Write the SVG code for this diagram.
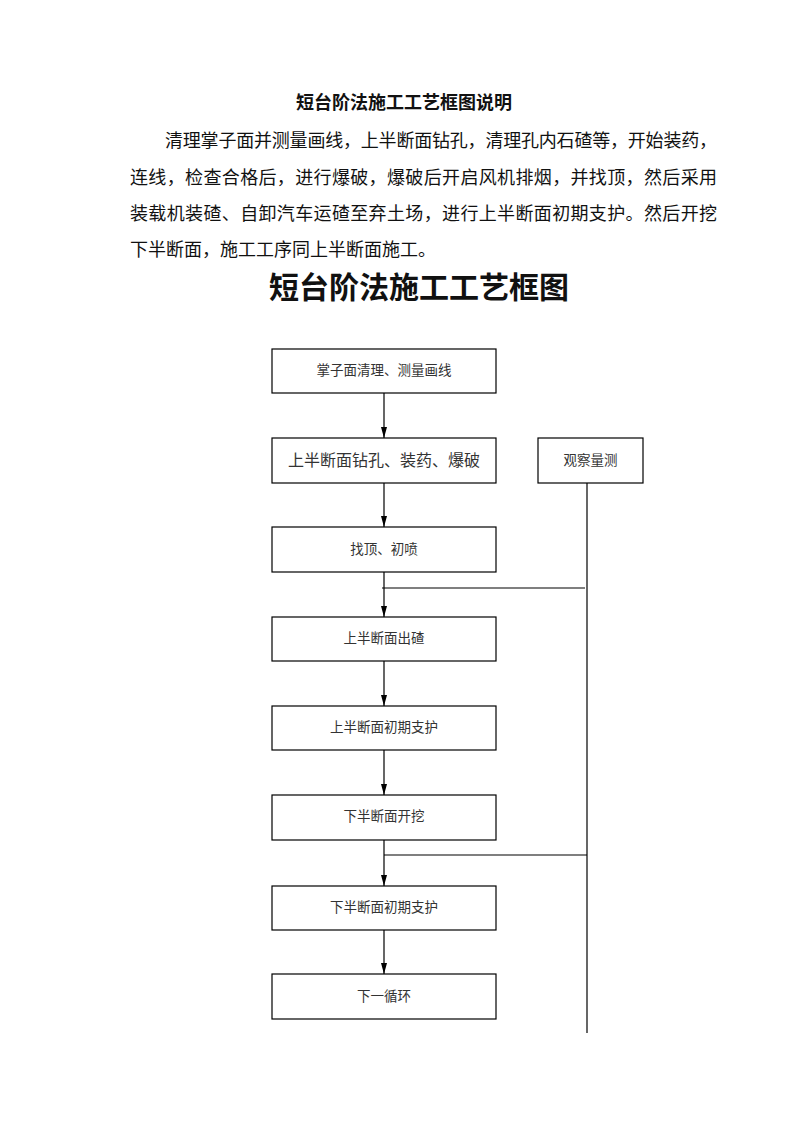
<svg xmlns="http://www.w3.org/2000/svg" width="793" height="1122" viewBox="0 0 793 1122">
<defs>
<style>
text{font-family:"Noto Sans CJK SC","Noto Sans CJK TC",sans-serif;fill:#111}
.h1{font-size:18px;font-weight:bold;text-anchor:middle}
.p{font-size:18px}
.h2{font-size:30px;font-weight:bold;text-anchor:middle}
.box rect{fill:#fff;stroke:#000;stroke-width:1.2}
.box text{font-size:13.5px;text-anchor:middle;fill:#333}
.ln{stroke:#000;stroke-width:1.2;fill:none}
</style>
<marker id="ad" viewBox="0 0 11 6" refX="11" refY="3" markerWidth="11" markerHeight="6" markerUnits="userSpaceOnUse" orient="auto">
<path d="M0,0 L11,3 L0,6 z" fill="#000"/>
</marker>
</defs>
<text class="h1" x="404" y="109">短台阶法施工工艺框图说明</text>
<text class="p" x="165" y="147" textLength="552" lengthAdjust="spacing">清理掌子面并测量画线，上半断面钻孔，清理孔内石碴等，开始装药，</text>
<text class="p" x="130" y="184" textLength="587" lengthAdjust="spacing">连线，检查合格后，进行爆破，爆破后开启风机排烟，并找顶，然后采用</text>
<text class="p" x="130" y="220" textLength="587" lengthAdjust="spacing">装载机装碴、自卸汽车运碴至弃土场，进行上半断面初期支护。然后开挖</text>
<text class="p" x="130" y="256">下半断面，施工工序同上半断面施工。</text>
<text class="h2" x="419" y="298">短台阶法施工工艺框图</text>

<g id="connectors">
<line class="ln" x1="384" y1="393" x2="384" y2="438" marker-end="url(#ad)"/>
<line class="ln" x1="384" y1="483" x2="384" y2="527" marker-end="url(#ad)"/>
<line class="ln" x1="384" y1="572" x2="384" y2="617" marker-end="url(#ad)"/>
<line class="ln" x1="384" y1="661" x2="384" y2="706" marker-end="url(#ad)"/>
<line class="ln" x1="384" y1="750" x2="384" y2="795" marker-end="url(#ad)"/>
<line class="ln" x1="384" y1="840" x2="384" y2="886" marker-end="url(#ad)"/>
<line class="ln" x1="384" y1="930" x2="384" y2="974" marker-end="url(#ad)"/>
<line class="ln" x1="587" y1="483" x2="587" y2="1033"/>
<line class="ln" x1="382" y1="588" x2="585" y2="588"/>
<line class="ln" x1="384" y1="855" x2="587" y2="855"/>
</g>

<g id="n1" class="box"><rect x="272" y="349" width="224" height="44"/><text x="384" y="375">掌子面清理、测量画线</text></g>
<g id="n2" class="box"><rect x="272" y="438" width="224" height="45"/><text x="384" y="466" style="font-size:16px">上半断面钻孔、装药、爆破</text></g>
<g id="obs" class="box"><rect x="538" y="438" width="105" height="45"/><text x="590.5" y="465">观察量测</text></g>
<g id="n3" class="box"><rect x="272" y="527" width="224" height="45"/><text x="384" y="554">找顶、初喷</text></g>
<g id="n4" class="box"><rect x="272" y="617" width="224" height="44"/><text x="384" y="643">上半断面出碴</text></g>
<g id="n5" class="box"><rect x="272" y="706" width="224" height="44"/><text x="384" y="732">上半断面初期支护</text></g>
<g id="n6" class="box"><rect x="272" y="795" width="224" height="45"/><text x="384" y="821">下半断面开挖</text></g>
<g id="n7" class="box"><rect x="272" y="886" width="224" height="44"/><text x="384" y="912">下半断面初期支护</text></g>
<g id="n8" class="box"><rect x="272" y="974" width="224" height="45"/><text x="384" y="1001">下一循环</text></g>
</svg>
